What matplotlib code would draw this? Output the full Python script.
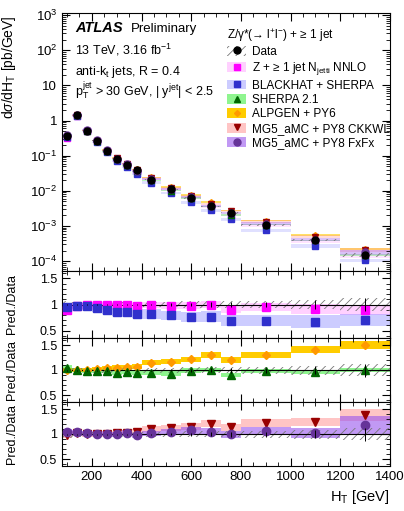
import numpy as np
import matplotlib
matplotlib.use("Agg")
import matplotlib.pyplot as plt
from matplotlib.patches import Patch
from matplotlib.lines import Line2D
from matplotlib.ticker import MultipleLocator, FixedLocator, NullFormatter, FuncFormatter

plt.rcParams['font.family'] = ['Liberation Sans', 'DejaVu Sans']
plt.rcParams['mathtext.fontset'] = 'custom'
plt.rcParams['mathtext.rm'] = 'Liberation Sans'
plt.rcParams['mathtext.it'] = 'Liberation Sans:italic'
plt.rcParams['mathtext.bf'] = 'Liberation Sans:bold'
plt.rcParams['hatch.linewidth'] = 0.6

# binning in H_T [GeV]
bin_edges = [80, 120, 160, 200, 240, 280, 320, 360, 400, 480, 560, 640, 720, 800, 1000, 1200, 1400]

# measured cross section [pb/GeV]
data = [0.37, 1.4, 0.52, 0.27, 0.14, 0.083, 0.056, 0.038, 0.021, 0.011, 0.0063,
        0.0036, 0.0023, 0.0011, 0.0004, 0.00015]
data_syst = [0.07, 0.05, 0.05, 0.05, 0.05, 0.05, 0.05, 0.05, 0.05, 0.05, 0.06,
             0.06, 0.06, 0.07, 0.09, 0.12]
data_stat = [0.01, 0.01, 0.01, 0.01, 0.01, 0.01, 0.01, 0.01, 0.01, 0.02, 0.03,
             0.04, 0.05, 0.05, 0.08, 0.13]

# prediction / data ratios and relative band half widths
nnlo = [0.89, 0.97, 0.99, 1.0, 1.0, 1.0, 0.99, 0.98, 0.99, 0.98, 0.98, 1.0, 0.9, 0.95, 0.91, 0.9]
nnlo_err = [0.04, 0.04, 0.04, 0.04, 0.04, 0.05, 0.05, 0.05, 0.05, 0.06, 0.06, 0.07, 0.07, 0.08, 0.1, 0.1]
blackhat = [0.95, 0.97, 0.97, 0.93, 0.89, 0.86, 0.85, 0.82, 0.82, 0.79, 0.76, 0.77, 0.69, 0.69, 0.67, 0.7]
blackhat_err = [0.06, 0.06, 0.06, 0.07, 0.07, 0.08, 0.08, 0.08, 0.09, 0.09, 0.1, 0.1, 0.1, 0.1, 0.12, 0.12]
sherpa = [1.05, 1.0, 0.99, 0.99, 0.98, 0.95, 0.96, 0.95, 0.95, 0.93, 0.99, 1.01, 0.9, 0.99, 0.97, 1.0]
sherpa_err = [0.05, 0.04, 0.04, 0.04, 0.04, 0.04, 0.04, 0.04, 0.04, 0.05, 0.05, 0.04, 0.04, 0.04, 0.04, 0.04]
alpgen = [1.0, 1.0, 1.01, 1.02, 1.04, 1.05, 1.06, 1.07, 1.15, 1.17, 1.22, 1.31, 1.2, 1.3, 1.41, 1.5]
alpgen_err = [0.04, 0.04, 0.04, 0.04, 0.04, 0.05, 0.05, 0.05, 0.05, 0.05, 0.05, 0.06, 0.06, 0.06, 0.07, 0.08]
ckkwl = [0.98, 1.02, 1.0, 1.0, 1.0, 1.02, 1.03, 1.05, 1.1, 1.12, 1.15, 1.21, 1.14, 1.22, 1.25, 1.39]
ckkwl_err = [0.05, 0.05, 0.05, 0.05, 0.05, 0.05, 0.05, 0.06, 0.06, 0.06, 0.07, 0.07, 0.07, 0.08, 0.08, 0.12]
fxfx = [1.05, 1.04, 1.02, 1.01, 1.01, 1.0, 1.03, 0.98, 1.02, 1.04, 1.08, 1.05, 1.0, 1.06, 1.03, 1.19]
fxfx_err = [0.05, 0.05, 0.05, 0.05, 0.05, 0.05, 0.05, 0.05, 0.05, 0.06, 0.07, 0.07, 0.07, 0.08, 0.1, 0.18]

edges = np.array(bin_edges, dtype=float)
centers = 0.5 * (edges[1:] + edges[:-1])
widths = edges[1:] - edges[:-1]
data = np.array(data)

preds = {
    'nnlo': dict(r=nnlo, e=nnlo_err, color='#ff00ff', band='#ff99ff', alpha=0.45, marker='s', ms=5,
                 label=r'Z + ≥ 1 jet N$_{\mathrm{jetti}}$ NNLO'),
    'blackhat': dict(r=blackhat, e=blackhat_err, color='#3030cc', band='#8080ff', alpha=0.4, marker='s', ms=5,
                     label='BLACKHAT + SHERPA'),
    'sherpa': dict(r=sherpa, e=sherpa_err, color='#006600', band='#33ee33', alpha=0.55, marker='^', ms=5,
                   label='SHERPA 2.1'),
    'alpgen': dict(r=alpgen, e=alpgen_err, color='#ff9900', band='#ffcc00', alpha=1.0, marker='D', ms=3,
                   label='ALPGEN + PY6'),
    'ckkwl': dict(r=ckkwl, e=ckkwl_err, color='#990000', band='#ff8080', alpha=0.45, marker='v', ms=5,
                  label='MG5_aMC + PY8 CKKWL'),
    'fxfx': dict(r=fxfx, e=fxfx_err, color='#663399', band='#9955ee', alpha=0.6, marker='o', ms=5,
                 label='MG5_aMC + PY8 FxFx'),
}

fig = plt.figure(figsize=(4.04, 5.11), dpi=100)
W, H = 404.0, 511.0
x0, x1 = 62, 390


def axes_px(top, bottom):
    return fig.add_axes([x0 / W, 1 - bottom / H, (x1 - x0) / W, (bottom - top) / H])


ax = axes_px(13, 271)
r1 = axes_px(271, 338)
r2 = axes_px(338, 402)
r3 = axes_px(402, 466)

# ---- main panel
ax.set_yscale('log')
for key in ['nnlo', 'blackhat', 'sherpa', 'alpgen', 'ckkwl', 'fxfx']:
    p = preds[key]
    val = data * np.array(p['r'])
    err = val * np.array(p['e'])
    ax.bar(centers, 2 * err, bottom=val - err, width=widths, color=p['band'], alpha=p['alpha'] * 0.6,
           linewidth=0, zorder=1)
    ax.plot(centers, val, linestyle='none', marker=p['marker'], color=p['color'], ms=p['ms'], zorder=3)

syst = data * np.array(data_syst)
ax.bar(centers, 2 * syst, bottom=data - syst, width=widths, fill=False, hatch='////',
       edgecolor='#777777', linewidth=0, zorder=2)
ax.errorbar(centers, data, yerr=data * np.array(data_stat), fmt='o', color='black', ms=5,
            elinewidth=0.8, capsize=0, zorder=5)

ax.set_ylim(10 ** -4.28, 10 ** 3.06)
ax.set_xlim(80, 1400)


def log_fmt(v, pos):
    e = int(round(np.log10(v)))
    if e == 0:
        return '1'
    if e == 1:
        return '10'
    return r'$10^{%d}$' % e


decades = np.arange(-4, 4)
ax.yaxis.set_major_locator(FixedLocator(10.0 ** decades))
minor = [m * 10.0 ** d for d in range(-5, 3) for m in range(2, 10)]
ax.yaxis.set_minor_locator(FixedLocator(minor))
ax.yaxis.set_major_formatter(FuncFormatter(log_fmt))
ax.yaxis.set_minor_formatter(NullFormatter())
ax.set_ylabel(r'd$\sigma$/dH$_{\mathrm{T}}$ [pb/GeV]', fontsize=10, loc='top')
ax.yaxis.set_label_coords(-0.135, 0.99, transform=ax.transAxes)

for a in [ax, r1, r2, r3]:
    a.set_xlim(80, 1400)
    a.xaxis.set_major_locator(MultipleLocator(200))
    a.xaxis.set_minor_locator(MultipleLocator(50))
    a.tick_params(which='both', direction='in', top=True, right=True, labelsize=9.5)
    a.tick_params(which='major', length=6, width=0.8)
    a.tick_params(which='minor', length=3, width=0.6)
    for s in a.spines.values():
        s.set_linewidth(0.8)
for a in [ax, r1, r2]:
    a.tick_params(labelbottom=False)

# text labels
ax.text(0.04, 0.925, 'ATLAS', transform=ax.transAxes, fontsize=10.5, fontweight='bold', style='italic')
ax.text(0.21, 0.925, 'Preliminary', transform=ax.transAxes, fontsize=9.5)
ax.text(0.04, 0.84, r'13 TeV, 3.16 fb$^{-1}$', transform=ax.transAxes, fontsize=9)
ax.text(0.04, 0.76, r'anti-k$_{\mathrm{t}}$ jets, R = 0.4', transform=ax.transAxes, fontsize=9)
ax.text(0.04, 0.68, r'p$_{\mathrm{T}}^{\mathrm{jet}}$ > 30 GeV, | y$^{\mathrm{jet}}$| < 2.5',
        transform=ax.transAxes, fontsize=9)

handles = [(Patch(facecolor='none', edgecolor='#777777', hatch='////', linewidth=0),
            Line2D([], [], marker='o', color='black', linestyle='none', ms=5))]
labels = ['Data']
for key in ['nnlo', 'blackhat', 'sherpa', 'alpgen', 'ckkwl', 'fxfx']:
    p = preds[key]
    handles.append((Patch(facecolor=p['band'], alpha=p['alpha'], linewidth=0),
                    Line2D([], [], marker=p['marker'], color=p['color'], linestyle='none', ms=p['ms'])))
    labels.append(p['label'])
leg = ax.legend(handles, labels, loc='upper left', bbox_to_anchor=(0.49, 0.965), frameon=False,
                fontsize=8.5, title='Z/γ*(→ l$^{+}$l$^{-}$) + ≥ 1 jet',
                title_fontsize=8.5, alignment='left', handlelength=1.6, handleheight=0.9,
                handletextpad=0.5, labelspacing=0.2, borderaxespad=0.0)

# ---- ratio panels
panels = [(r1, ['nnlo', 'blackhat']), (r2, ['alpgen', 'sherpa']), (r3, ['ckkwl', 'fxfx'])]
for a, keys in panels:
    a.bar(centers, 2 * np.array(data_syst), bottom=1 - np.array(data_syst), width=widths, fill=False,
          hatch='////', edgecolor='#777777', linewidth=0, zorder=2)
    a.axhline(1.0, color='black', linewidth=0.8, zorder=2)
    for key in keys:
        p = preds[key]
        rr = np.array(p['r'])
        ee = np.array(p['e'])
        a.bar(centers, 2 * ee, bottom=rr - ee, width=widths, color=p['band'], alpha=p['alpha'],
              linewidth=0, zorder=1)
        a.plot(centers, rr, linestyle='none', marker=p['marker'], color=p['color'], ms=p['ms'] + 1, zorder=3)
    a.errorbar(centers, np.ones(len(centers)), yerr=data_stat, fmt='none', ecolor='black',
               elinewidth=0.7, zorder=4)
    a.set_ylim(0.36, 1.64)
    a.set_yticks([0.5, 1.0, 1.5])
    a.set_yticklabels(['0.5', '1', '1.5'])
    a.yaxis.set_minor_locator(MultipleLocator(0.1))
    a.tick_params(axis='y', labelsize=9)
    a.set_ylabel('Pred./Data', fontsize=9)
    a.yaxis.set_label_coords(-0.135, 0.5, transform=a.transAxes)

r3.set_xlabel(r'H$_{\mathrm{T}}$ [GeV]', fontsize=10.5, loc='right')

fig.savefig('out.png', dpi=100)
